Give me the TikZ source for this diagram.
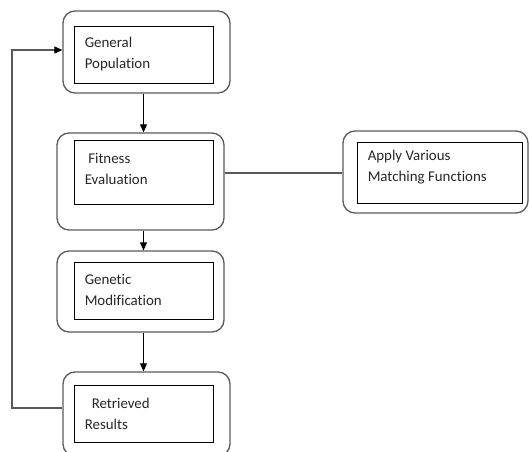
\documentclass[tikz,border=0pt]{standalone}
\usepackage{fontspec}
\setmainfont[Ligatures=NoCommon]{Carlito}
\usetikzlibrary{arrows.meta,calc}
\definecolor{boxgray}{HTML}{5A5A5A}
\begin{document}
\begin{tikzpicture}[x=1pt,y=-1pt,
  outerbox/.style={draw=boxgray,line width=1.3pt,rounded corners=12pt,minimum width=#1,inner sep=0pt},
  innerbox/.style={draw=black,line width=0.9pt,inner sep=0pt,minimum width=#1},
  txt/.style={anchor=west,inner sep=0pt,align=left,
     font=\fontsize{14.9pt}{21pt}\selectfont,text=black!85},
  arr/.style={draw=black,line width=0.9pt,-{Triangle[length=8pt,width=7pt]}},
  link/.style={draw=boxgray,line width=1.1pt}]
\useasboundingbox (0,0) rectangle (530,452);
% outer rounded boxes
\node[outerbox=167pt,minimum height=82pt] (O1) at (146.5,52) {};
\node[outerbox=167pt,minimum height=97pt] (O2) at (140.5,181.5) {};
\node[outerbox=167pt,minimum height=81pt] (O3) at (140.5,291.5) {};
\node[outerbox=167pt,minimum height=84pt] (O4) at (146.5,414) {};
\node[outerbox=185pt,minimum height=82pt] (O5) at (435.5,172) {};
% inner boxes
\node[innerbox=139pt,minimum height=57pt] (I1) at (143.5,54.5) {};
\node[innerbox=139pt,minimum height=64pt] (I2) at (143.5,172) {};
\node[innerbox=139pt,minimum height=57pt] (I3) at (143.5,290.5) {};
\node[innerbox=139pt,minimum height=57pt] (I4) at (143.5,413.5) {};
\node[innerbox=165pt,minimum height=61pt] (I5) at (439.5,172.5) {};
% texts
\node[txt] (T1) at ([xshift=11pt]I1.west |- 0,54) {General\\Population};
\node[txt] (T2) at ([xshift=11pt]I2.west |- 0,169) {\hspace{3.5pt}Fitness\\Evaluation};
\node[txt] (T3) at ([xshift=11pt]I3.west |- 0,290) {Genetic\\Modification};
\node[txt] (T4) at ([xshift=11pt]I4.west |- 0,413.5) {\hspace{7pt}Retrieved\\Results};
\node[txt] (T5) at ([xshift=11pt]I5.west |- 0,167.5) {Apply Various\\Matching Functions};
% connectors
\draw[arr] (O1.south -| I1.center) -- (O2.north -| I1.center);
\draw[arr] (O2.south -| I1.center) -- (O3.north -| I1.center);
\draw[arr] (O3.south -| I1.center) -- (O4.north -| I1.center);
\coordinate (fb1) at (12,408);
\coordinate (fb2) at (12,50);
\draw[link] (O2.east |- 0,173) -- (O5.west |- 0,173);
\draw[link] (O4.west |- fb1) -- (fb1) -- (fb2) -- ([xshift=-7pt]O1.west |- fb2);
\draw[arr] ([xshift=-8pt]O1.west |- fb2) -- (O1.west |- fb2);
\end{tikzpicture}
\end{document}
